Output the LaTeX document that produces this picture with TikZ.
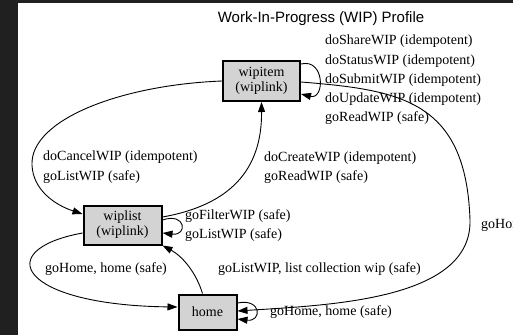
\documentclass[tikz,border=0pt]{standalone}
\usepackage{fontspec}
\setmainfont{Liberation Serif}
\newfontfamily\titlefont{Liberation Sans}
\usetikzlibrary{arrows.meta}
\definecolor{darkbg}{RGB}{32,32,33}
\definecolor{nodefill}{RGB}{211,211,211}
\begin{document}
\begin{tikzpicture}[x=1pt,y=-1pt,
  box/.style={draw, line width=2pt, fill=nodefill, inner sep=0pt, align=center, font=\fontsize{14}{15}\selectfont},
  lbl/.style={anchor=west, align=left, inner sep=0pt, font=\fontsize{14}{19.3}\selectfont},
  edge/.style={line width=0.9pt, -{Triangle[length=10pt,width=7pt]}}]
\useasboundingbox (0,0) rectangle (513,335);
\clip (0,0) rectangle (513,335);
\fill[darkbg] (0,0) rectangle (513,335);
\fill[white] (18,3) rectangle (513,335);

\node[font=\titlefont\fontsize{15}{18}\selectfont] (title) at (321,19) {Work-In-Progress (WIP) Profile};

\node[box, minimum width=77pt, minimum height=40pt] (wipitem) at (261.5,81) {wipitem\\(wiplink)};
\node[box, minimum width=78pt, minimum height=39pt] (wiplist) at (122.5,225) {wiplist\\(wiplink)};
\node[box, minimum width=58pt, minimum height=35pt] (home) at (207.5,312) {home};

\coordinate (via1) at (470,220);
\coordinate (via2) at (32,165);

% wipitem self loop
\draw[edge] ([yshift=17pt]wipitem.east) .. controls (325,58) and (325,100) .. ([yshift=-13pt]wipitem.east);
% wipitem -> home
\draw[edge] ([yshift=-1pt]wipitem.east) .. controls (400,90) and (466,100) .. (via1) .. controls (472,300) and (330,305) .. ([yshift=1pt]home.east);
% wipitem -> wiplist
\draw[edge] (wipitem.west) .. controls (120,85) and (30,120) .. (via2) .. controls (33,190) and (55,205) .. ([yshift=11pt]wiplist.west);
% wiplist -> wipitem
\draw[edge] ([yshift=8pt]wiplist.east) .. controls (230,205) and (262,170) .. (wipitem.south);
% wiplist self loop
\draw[edge] ([yshift=5pt]wiplist.east) .. controls (186,212) and (188,236) .. ([yshift=-8pt]wiplist.east);
% wiplist -> home
\draw[edge] ([yshift=-8pt]wiplist.west) .. controls (-10,250) and (20,305) .. ([yshift=5pt]home.west);
% home -> wiplist
\draw[edge] ([xshift=-5pt]home.north) .. controls (196,272) and (182,256) .. (wiplist.south east);
% home self loop
\draw[edge] ([yshift=9pt]home.east) .. controls (262,298) and (262,322) .. ([yshift=-7pt]home.east);

\node[lbl] (lshare) at (325,80) {doShareWIP (idempotent)\\doStatusWIP (idempotent)\\doSubmitWIP (idempotent)\\doUpdateWIP (idempotent)\\goReadWIP (safe)};
\node[lbl] (lcancel) at (43,167) {doCancelWIP (idempotent)\\goListWIP (safe)};
\node[lbl] (lcreate) at (264,167.5) {doCreateWIP (idempotent)\\goReadWIP (safe)};
\node[lbl] (lfilter) at (185,225.4) {goFilterWIP (safe)\\goListWIP (safe)};
\node[lbl] (lhomel) at (45,269) {goHome, home (safe)};
\node[lbl] (llist) at (218,269) {goListWIP, list collection wip (safe)};
\node[lbl] (lhomeloop) at (270,312) {goHome, home (safe)};
\node[lbl] (lhomer) at (481,225) {goHome, home (safe)};
\end{tikzpicture}
\end{document}
